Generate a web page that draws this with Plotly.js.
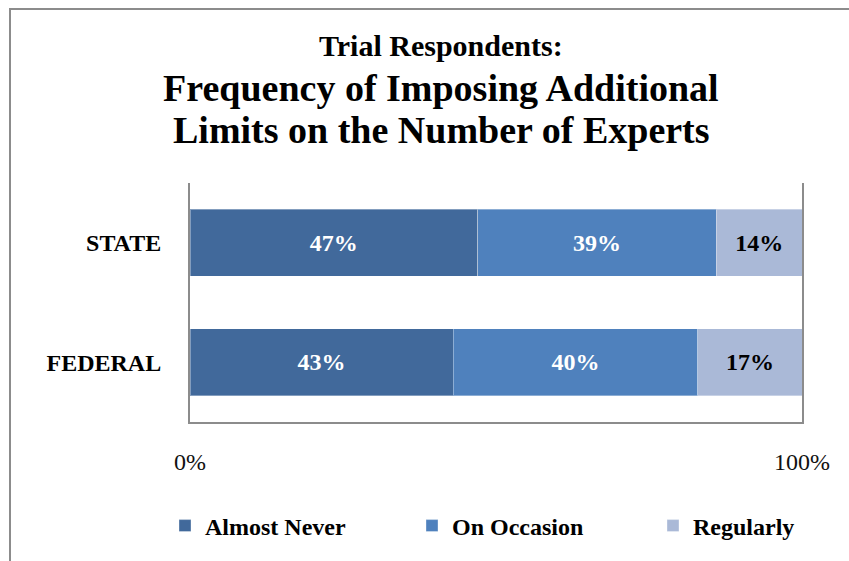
<!DOCTYPE html>
<html>
<head>
<meta charset="utf-8">
<script src="https://cdn.plot.ly/plotly-3.0.1.min.js"></script>
<style>
html,body{margin:0;padding:0;background:#fff;}
#chart{width:849px;height:561px;}
</style>
</head>
<body>
<div id="chart"></div>
<script>
const categories = ['FEDERAL', 'STATE'];
const seriesNames = ['Almost Never', 'On Occasion', 'Regularly'];
const almostNever = [43, 47];
const onOccasion = [40, 39];
const regularly = [17, 14];
const xTickVals = [0, 100];
const xTickText = ['0%', '100%'];
const titleLines = ['Trial Respondents:', 'Frequency of Imposing Additional', 'Limits on the Number of Experts'];

const colors = ['#41699B', '#4F81BD', '#AAB9D7'];
const textColors = ['#ffffff', '#ffffff', '#000000'];
const seriesValues = [almostNever, onOccasion, regularly];
const FONT = '"Liberation Serif", "Times New Roman", serif';

const L = 190, R = 47, T = 183, B = 139;
const W = 849 - L - R, H = 561 - T - B;
const px = v => (v - L) / W;
const py = v => (561 - B - v) / H;

const legendNames = ['legend', 'legend2', 'legend3'];
const legendX = [165, 412, 653];

const traces = seriesValues.map((vals, i) => ({
  type: 'bar',
  orientation: 'h',
  name: '<b>' + seriesNames[i] + '</b>',
  legend: legendNames[i],
  y: categories,
  x: vals,
  text: vals.map(v => '<b>' + v + '%</b>'),
  textposition: 'inside',
  insidetextanchor: 'middle',
  textangle: 0,
  textfont: {family: FONT, size: 24, color: textColors[i]},
  marker: {color: colors[i], line: {color: 'rgba(255,255,255,0.35)', width: 1}},
  hoverinfo: 'none'
}));

const titleY = [46, 88, 130];
const titleSize = [30, 38, 38];
const annotations = titleLines.map((t, i) => ({
  text: '<b>' + t + '</b>',
  xref: 'paper', yref: 'paper',
  x: px(441), y: py(titleY[i]),
  xanchor: 'center', yanchor: 'middle',
  showarrow: false,
  font: {family: FONT, size: titleSize[i], color: '#000'}
}));

const layout = {
  width: 849, height: 561,
  margin: {l: L, r: R, t: T, b: B, pad: 0, autoexpand: false},
  paper_bgcolor: '#fff', plot_bgcolor: '#fff',
  barmode: 'stack',
  bargap: 0.44,
  font: {family: FONT, color: '#000'},
  annotations: annotations,
  xaxis: {
    range: [0, 100],
    tickvals: xTickVals, ticktext: xTickText,
    tickfont: {family: FONT, size: 24, color: '#111'},
    showgrid: false, zeroline: false,
    showline: true, linecolor: '#8c8c8c', linewidth: 2,
    ticks: '', ticklabelstandoff: 17
  },
  yaxis: {
    range: [-0.5, 1.5],
    tickfont: {family: FONT, size: 24, color: '#000'},
    tickprefix: '<b>', ticksuffix: '</b>',
    showgrid: false, zeroline: false,
    showline: true, mirror: true, linecolor: '#8c8c8c', linewidth: 2,
    ticks: '', ticklabelstandoff: 22
  },
  shapes: [{
    type: 'rect', xref: 'paper', yref: 'paper',
    x0: px(10), x1: px(870), y0: py(9), y1: py(580),
    line: {color: '#8c8c8c', width: 2}, fillcolor: 'rgba(0,0,0,0)', layer: 'below'
  }],
  showlegend: true
};

legendNames.forEach((ln, i) => {
  layout[ln] = {
    orientation: 'h',
    x: px(legendX[i]), xanchor: 'left',
    y: py(526), yanchor: 'middle',
    font: {family: FONT, size: 24, color: '#000'},
    bgcolor: 'rgba(0,0,0,0)',
    borderwidth: 0
  };
});

Plotly.newPlot('chart', traces, layout, {staticPlot: true, displayModeBar: false});
</script>
</body>
</html>
